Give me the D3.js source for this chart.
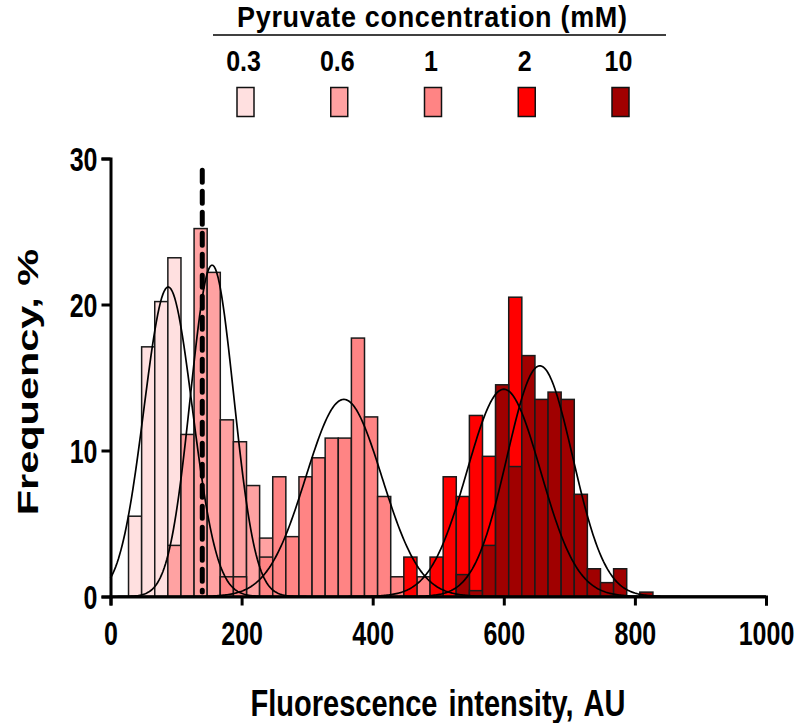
<!DOCTYPE html>
<html>
<head>
<meta charset="utf-8">
<script src="https://cdn.jsdelivr.net/npm/d3@7"></script>
<style>
  html, body { margin: 0; padding: 0; background: #fff; }
  svg { display: block; }
  text { font-family: "Liberation Sans", Arial, sans-serif; font-weight: bold; fill: #000; }
</style>
</head>
<body>
<svg id="chart" width="800" height="723"></svg>
<script>
// ---- data ----
const concentrations = ["0.3", "0.6", "1", "2", "10"];
const seriesColors = ["#FFE0E0", "#FFA2A2", "#FF8484", "#FF0000", "#A00000"];
// histogram bin centres (AU), bin width 20
const binCenters = [37.5, 57.5, 77.5, 97.5, 117.5, 137.5, 157.5, 177.5, 197.5, 217.5,
                    237.5, 257.5, 277.5, 297.5, 317.5, 337.5, 357.5, 377.5, 397.5, 417.5,
                    437.5, 457.5, 477.5, 497.5, 517.5, 537.5, 557.5, 577.5, 597.5, 617.5,
                    637.5, 657.5, 677.5, 697.5, 717.5, 737.5, 757.5, 777.5, 797.5, 817.5];
const binWidth = 20;
// frequency (%) per bin for each pyruvate concentration
const freq03 = [5.5, 17.1, 20.2, 23.2, 11.0, 12.0, 7.0, 2.5, 1.5, 0,
                0, 0, 0, 0, 0, 0, 0, 0, 0, 0,
                0, 0, 0, 0, 0, 0, 0, 0, 0, 0,
                0, 0, 0, 0, 0, 0, 0, 0, 0, 0];
const freq06 = [0, 0, 0, 3.5, 11.1, 25.2, 22.2, 12.1, 10.6, 7.6,
                4.0, 2.5, 1.2, 0, 0, 0, 0, 0, 0, 0,
                0, 0, 0, 0, 0, 0, 0, 0, 0, 0,
                0, 0, 0, 0, 0, 0, 0, 0, 0, 0];
const freq1 = [0, 0, 0, 0, 0, 0, 0, 1.35, 1.35, 0,
               2.7, 8.2, 4.1, 8.2, 9.5, 10.85, 10.85, 17.7, 12.3, 6.85,
               1.35, 1.35, 1.35, 0, 0, 0, 0, 0, 0, 0,
               0, 0, 0, 0, 0, 0, 0, 0, 0, 0];
const freq2 = [0, 0, 0, 0, 0, 0, 0, 0, 0, 0,
               0, 0, 0, 0, 0, 0, 0, 0, 0, 0,
               0, 2.7, 0, 2.7, 8.2, 6.85, 12.4, 9.6, 14.0, 20.5,
               12.0, 7.0, 3.0, 1.05, 0, 0, 0, 0, 0, 0];
const freq10 = [0, 0, 0, 0, 0, 0, 0, 0, 0, 0,
                0, 0, 0, 0, 0, 0, 0, 0, 0, 0,
                0, 0, 0, 0, 0, 1.5, 0.4, 3.5, 14.5, 8.9,
                16.5, 13.5, 14.0, 13.5, 7.0, 1.9, 0.95, 1.9, 0, 0.3];
// Gaussian fit parameters (amplitude %, mean AU, SD AU)
const fitAmp  = [21.2, 22.7, 13.5, 14.2, 15.8];
const fitMean = [88, 155, 356, 600, 655];
const fitSD   = [37, 33, 58, 56, 50];
// dashed reference line
const refLineX = 140;
const refLineTop = 29.2;
const xTicks = [0, 200, 400, 600, 800, 1000];
const yTicks = [0, 10, 20, 30];

const allFreq = [freq03, freq06, freq1, freq2, freq10];

// ---- scales ----
const svg = d3.select("#chart");
const x = d3.scaleLinear().domain([0, 1000]).range([110.5, 766]);
const y = d3.scaleLinear().domain([0, 30]).range([596.5, 158.5]);

// helper: bold text with vertical stretch (the reference text is tall and narrow)
function label(parent, tx, ty, str, size, anchor, sy, rot) {
  return parent.append("text")
    .attr("transform", `translate(${tx},${ty}) scale(1,${sy})` + (rot ? ` rotate(${rot})` : ""))
    .attr("text-anchor", anchor)
    .style("font-size", size + "px")
    .text(str);
}

// ---- bars ----
allFreq.forEach((arr, si) => {
  svg.append("g").selectAll("rect")
    .data(binCenters.map((c, i) => ({c, v: arr[i]})).filter(d => d.v > 0))
    .join("rect")
    .attr("x", d => x(d.c - binWidth / 2))
    .attr("width", d => x(d.c + binWidth / 2) - x(d.c - binWidth / 2))
    .attr("y", d => y(d.v))
    .attr("height", d => y(0) - y(d.v))
    .attr("fill", seriesColors[si])
    .attr("stroke", "#1a1a1a")
    .attr("stroke-width", 1.5);
});

// ---- Gaussian fit curves ----
const xs = d3.range(0, 1000.1, 2);
const line = d3.line().x(d => x(d[0])).y(d => y(d[1]));
fitAmp.forEach((A, i) => {
  const pts = xs.map(v => [v, A * Math.exp(-Math.pow(v - fitMean[i], 2) / (2 * fitSD[i] * fitSD[i]))]);
  svg.append("path").attr("d", line(pts))
    .attr("fill", "none").attr("stroke", "#000").attr("stroke-width", 1.7);
});

// ---- dashed line ----
svg.append("line")
  .attr("x1", x(refLineX)).attr("x2", x(refLineX))
  .attr("y1", y(refLineTop)).attr("y2", y(0.3))
  .attr("stroke", "#000").attr("stroke-width", 5)
  .attr("stroke-linecap", "round")
  .attr("stroke-dasharray", "12 9");

// ---- axes ----
const xAxis = svg.append("g").attr("transform", `translate(0,${y(0)})`)
  .call(d3.axisBottom(x).tickValues(xTicks).tickSize(9).tickFormat(d3.format("d")));
const yAxis = svg.append("g").attr("transform", `translate(${x(0)},0)`)
  .call(d3.axisLeft(y).tickValues(yTicks).tickSize(9));
[xAxis, yAxis].forEach(a => {
  a.select(".domain").attr("stroke", "#000").attr("stroke-width", 3);
  a.selectAll(".tick line").attr("stroke", "#000").attr("stroke-width", 3);
  a.selectAll(".tick text").remove();
});
xAxis.selectAll(".tick").each(function(d) {
  label(d3.select(this), 0, 48, d3.format("d")(d), 25, "middle", 1.3);
});
yAxis.selectAll(".tick").each(function(d) {
  label(d3.select(this), -13, 12, d, 25, "end", 1.3);
});

// ---- axis titles ----
label(svg, 438, 716, "Fluorescence intensity, AU", 29, "middle", 1.25).style("word-spacing", "3px");
label(svg, 38, 382, "Frequency, %", 29, "middle", 1.43, -90);

// ---- legend ----
label(svg, 432, 27, "Pyruvate concentration (mM)", 27, "middle", 1.1)
  .attr("textLength", 390).attr("lengthAdjust", "spacing");
svg.append("line").attr("x1", 213).attr("x2", 666).attr("y1", 35).attr("y2", 35)
  .attr("stroke", "#000").attr("stroke-width", 1.6);
const legendX = d3.scalePoint().domain(concentrations).range([245.5, 620.5]);
const lg = svg.append("g").selectAll("g").data(concentrations).join("g")
  .attr("transform", d => `translate(${legendX(d)},0)`);
lg.each(function(d) { label(d3.select(this), -2, 71, d, 25, "middle", 1.15); });
lg.append("rect").attr("x", -8.5).attr("y", 87.5).attr("width", 17).attr("height", 29)
  .attr("fill", (d, i) => seriesColors[i]).attr("stroke", "#111").attr("stroke-width", 1.5);
</script>
</body>
</html>
